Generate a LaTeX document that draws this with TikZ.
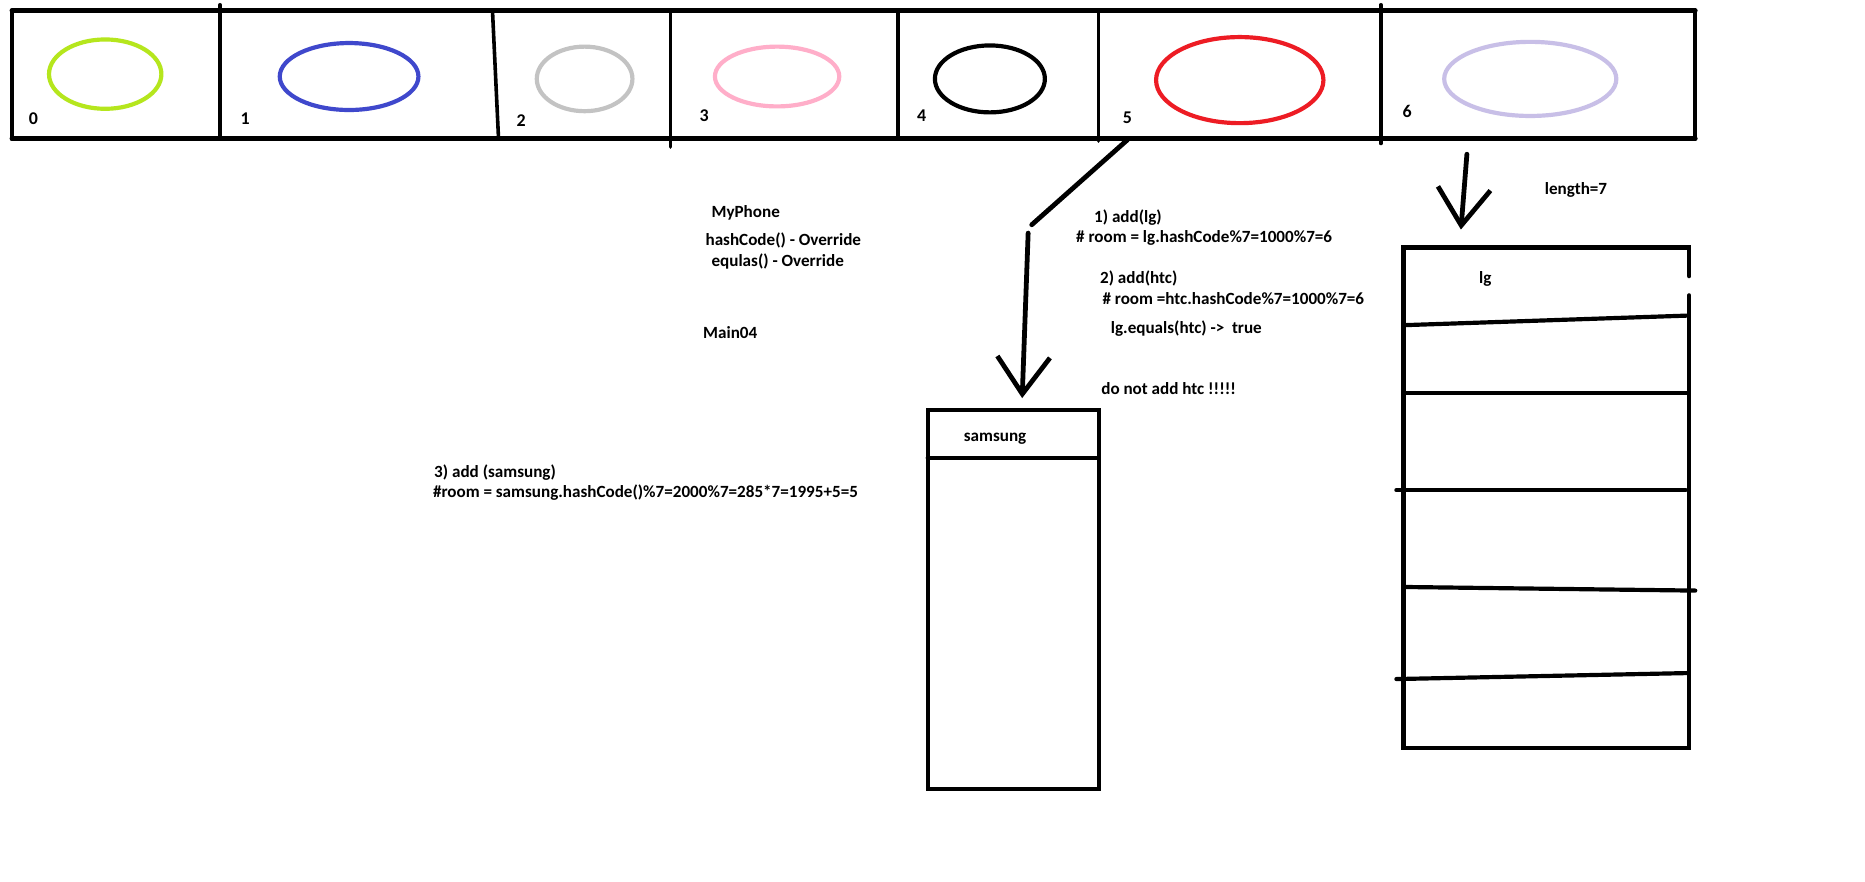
\documentclass[tikz,border=0pt]{standalone}
\usepackage{fontspec}
\setmainfont{Carlito}
\usetikzlibrary{arrows.meta}

\definecolor{roomlime}{HTML}{B5E61D}
\definecolor{roomblue}{HTML}{3F48CC}
\definecolor{roomgray}{HTML}{C3C3C3}
\definecolor{roompink}{HTML}{FFAEC9}
\definecolor{roomred}{HTML}{ED1C24}
\definecolor{roomlav}{HTML}{C8BFE7}

\begin{document}
\begin{tikzpicture}[x=1pt,y=-1pt,line cap=round,
  txt/.style={anchor=base west,inner sep=0pt,font=\fontsize{14.3}{17}\selectfont\bfseries},
  idx/.style={anchor=base west,inner sep=0pt,font=\fontsize{15}{17}\selectfont\bfseries},
  stroke/.style={line width=4pt},
  barb/.style={line width=4pt,-{Straight Barb[length=31pt,width=44pt,line width=4pt]}}]
\useasboundingbox[fill=white] (0,0) rectangle (1560,737);

% the array, 7 rooms
\draw[line width=4pt] (10,9) -- (1418,9) (10,116) -- (1418,116);
\draw[line width=3.5pt] (10,9) -- (10,116) (1418,9) -- (1418,116);
\foreach \xa/\ya/\xb/\yb in {184/4/184/114, 412/10/417/116, 561/10/561/123,
  751/10/751/116, 919/10/919/118, 1155/4/1155/120}
  \draw[line width=3pt] (\xa,\ya) -- (\xb,\yb);

\foreach \c/\cx/\cy/\rx/\ry/\lx/\ly [count=\n from 0] in
  {roomlime/88/62/47/29/24/104, roomblue/292/64/58/28/201/104,
   roomgray/489/66/40/27/432/106, roompink/650/64/52/25/585/102,
   black/828/66/46/28/767/102, roomred/1037/67/70/36/939/103,
   roomlav/1280/66/72/31/1173/98}{
    \draw[\c, line width=3.5pt] (\cx,\cy) ellipse [x radius=\rx, y radius=\ry];
    \node[idx] (room\n) at (\lx,\ly) {\n};
  }

% MyPhone notes
\node[txt] (myphone) at (595,182) {MyPhone};
\node[txt] (hash) at (590,205) {hashCode() - Override};
\node[txt] (equ) at (595,223) {equlas() - Override};
\node[txt] (main) at (588,283) {Main04};

\node[txt] (add1) at (915,186) {1) add(lg)};
\node[txt] (room1) at (900,203) {\# room = lg.hashCode\%7=1000\%7=6};
\node[txt] (add2) at (920,237) {2) add(htc)};
\node[txt] (room2) at (922,255) {\# room =htc.hashCode\%7=1000\%7=6};
\node[txt] (eq) at (929,279) {lg.equals(htc) -> \ true};
\node[txt] (dont) at (921,330) {do not add htc !!!!!};

\node[txt] (add3) at (363,399) {3) add (samsung)};
\node[txt] (room3) at (362,416) {\#room = samsung.hashCode()\%7=2000\%7=285*7=1995+5=5};

\node[txt] (len) at (1292,163) {length=7};

% bucket 5
\draw[line width=3.5pt] (776,343) rectangle (919,660);
\draw[line width=3.5pt] (776,383) -- (919,383);
\node[txt] (samsung) at (806,369) {samsung};

\coordinate (s5) at (943,117);
\coordinate (k5) at (863,188);
\coordinate (k5b) at (860,195);
\coordinate (t5) at (855,333);
\draw[stroke] (s5) -- (k5);
\draw[barb] (k5b) -- (t5);

% bucket 6
\draw[line width=3.5pt] (1413,231) -- (1413,207) -- (1174,207) -- (1174,626)
  -- (1413,626) -- (1413,247);
\node[txt] (lg) at (1237,237) {lg};
\draw[line width=3.5pt] (1174,272) -- (1411,264);
\draw[line width=3.5pt] (1176,329) -- (1411,329);
\draw[line width=3.5pt] (1168,410) -- (1410,410);
\draw[line width=3.5pt] (1176,491) -- (1418,494);
\draw[line width=3.5pt] (1168,568) -- (1411,563);

\coordinate (s6) at (1227,129);
\coordinate (t6) at (1222,192);
\draw[barb] (s6) -- (t6);
\end{tikzpicture}
\end{document}
